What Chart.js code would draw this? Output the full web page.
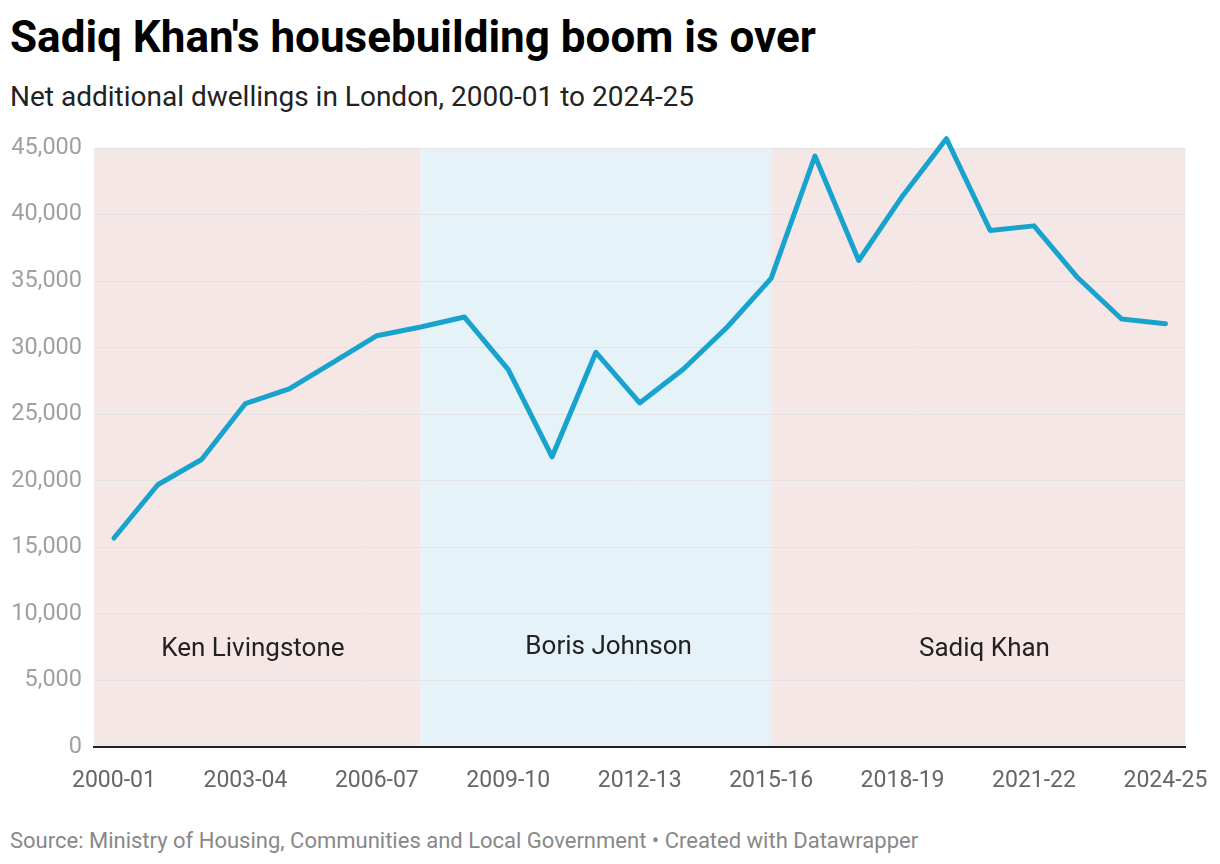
<!DOCTYPE html>
<html>
<head>
<meta charset="utf-8">
<script src="https://cdn.jsdelivr.net/npm/chart.js@4.4.1/dist/chart.umd.min.js"></script>
<style>
  body { margin: 0; background: #fff; font-family: Roboto, "Noto Sans", sans-serif; }
  #page { position: relative; width: 1220px; height: 864px; overflow: hidden; }
  #titulo { position: absolute; left: 10px; top: 15px; font-size: 44px; line-height: 1; font-weight: 700; color: #000; white-space: nowrap; }
  #subtitulo { position: absolute; left: 10px; top: 83px; font-size: 28px; line-height: 1; color: #222; white-space: nowrap; }
  #caja { position: absolute; left: 0; top: 120px; width: 1220px; height: 700px; }
  #fuente { position: absolute; left: 10px; top: 830px; font-size: 22px; line-height: 1; color: #888; white-space: nowrap; }
</style>
</head>
<body>
<div id="page">
  <div id="titulo">Sadiq Khan's housebuilding boom is over</div>
  <div id="subtitulo">Net additional dwellings in London, 2000-01 to 2024-25</div>
  <div id="caja"><canvas id="grafico"></canvas></div>
  <div id="fuente">Source: Ministry of Housing, Communities and Local Government • Created with Datawrapper</div>
</div>
<script>
// Años fiscales
const years = [
  '2000-01', '2001-02', '2002-03', '2003-04', '2004-05', '2005-06', '2006-07',
  '2007-08', '2008-09', '2009-10', '2010-11', '2011-12', '2012-13', '2013-14',
  '2014-15', '2015-16', '2016-17', '2017-18', '2018-19', '2019-20', '2020-21',
  '2021-22', '2022-23', '2023-24', '2024-25'
];
// Viviendas netas adicionales
const dwellings = [
  15700, 19700, 21600, 25800, 26900, 28900, 30900,
  31550, 32300, 28350, 21800, 29650, 25850, 28400,
  31550, 35200, 44400, 36550, 41400, 45700, 38800,
  39150, 35250, 32150, 31800
];
const yTicks = [0, 5000, 10000, 15000, 20000, 25000, 30000, 35000, 40000, 45000];
const xTickIdx = [0, 3, 6, 9, 12, 15, 18, 21, 24];

// Alcaldes: nombre, inicio y fin (índice de año), posición de la etiqueta
const mayorNames = ['Ken Livingstone', 'Boris Johnson', 'Sadiq Khan'];
const mayorStart = [null, 7, 15];
const mayorEnd = [7, 15, null];
const mayorLabelX = [3.17, 11.29, 19.87];
const mayorLabelY = [7300, 7450, 7300];
const mayorColors = ['#f6e7e7', '#e5f2f8', '#f6e7e7'];

const puntos = dwellings.map((v, i) => ({ x: i, y: v }));

// Plugin para las franjas de cada alcalde
const franjas = {
  id: 'franjas',
  beforeDraw(chart) {
    const { ctx, chartArea } = chart;
    const x = chart.scales.x;
    ctx.save();
    mayorNames.forEach((n, i) => {
      const x0 = mayorStart[i] === null ? chartArea.left : x.getPixelForValue(mayorStart[i]);
      const x1 = mayorEnd[i] === null ? chartArea.right : x.getPixelForValue(mayorEnd[i]);
      ctx.fillStyle = mayorColors[i];
      ctx.fillRect(x0, chartArea.top, x1 - x0, chartArea.bottom - chartArea.top);
    });
    ctx.restore();
  },
  beforeDatasetsDraw(chart) {
    const { ctx } = chart;
    const x = chart.scales.x;
    const y = chart.scales.y;
    ctx.save();
    ctx.font = '26px Roboto';
    ctx.fillStyle = '#222';
    ctx.textAlign = 'center';
    ctx.textBaseline = 'middle';
    mayorNames.forEach((n, i) => {
      ctx.fillText(n, x.getPixelForValue(mayorLabelX[i]), y.getPixelForValue(mayorLabelY[i]));
    });
    ctx.restore();
  }
};

new Chart(document.getElementById('grafico'), {
  type: 'line',
  data: {
    datasets: [{
      data: puntos,
      borderColor: '#18a3cf',
      borderWidth: 5,
      borderJoinStyle: 'round',
      borderCapStyle: 'round',
      pointRadius: 0,
      tension: 0,
      clip: false
    }]
  },
  options: {
    responsive: true,
    maintainAspectRatio: false,
    animation: false,
    layout: { padding: { left: 10, right: 34, top: 28, bottom: 23 } },
    plugins: {
      legend: { display: false },
      tooltip: { enabled: false }
    },
    scales: {
      x: {
        type: 'linear',
        min: -0.456,
        max: 24.456,
        afterBuildTicks: s => { s.ticks = xTickIdx.map(v => ({ value: v })); },
        afterFit: s => { s.height = 50; },
        grid: { display: false },
        border: { display: true, color: '#222', width: 2 },
        ticks: {
          autoSkip: false,
          maxRotation: 0,
          padding: 12,
          color: '#666',
          font: { family: 'Roboto', size: 23 },
          callback: v => years[v]
        }
      },
      y: {
        min: 0,
        max: 45000,
        afterBuildTicks: s => { s.ticks = yTicks.map(v => ({ value: v })); },
        afterFit: s => { s.width = 84; },
        grid: { color: '#e3e3e3', lineWidth: 1, drawTicks: false },
        border: { display: false },
        ticks: {
          padding: 12,
          color: '#a0a0a0',
          font: { family: 'Roboto', size: 23.5 },
          callback: v => v.toLocaleString('en-US')
        }
      }
    }
  },
  plugins: [franjas]
});
</script>
</body>
</html>
